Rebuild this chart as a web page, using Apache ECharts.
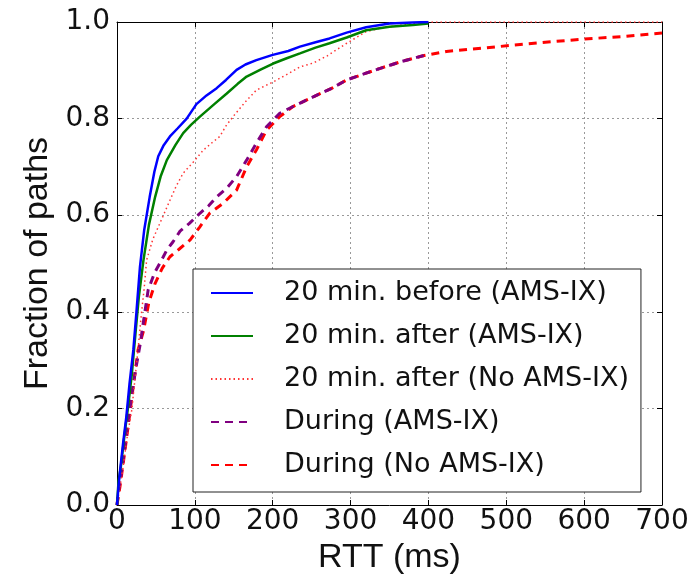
<!DOCTYPE html>
<html>
<head>
<meta charset="utf-8">
<script src="https://cdn.jsdelivr.net/npm/echarts@6/dist/echarts.min.js"></script>
<style>html,body{margin:0;padding:0;background:#fff}#c{width:692px;height:580px}</style>
</head>
<body>
<div id="c"></div>
<script>
const seriesNames = ["20 min. before (AMS-IX)", "20 min. after (AMS-IX)", "20 min. after (No AMS-IX)", "During (AMS-IX)", "During (No AMS-IX)"];
const xTicks = [0, 100, 200, 300, 400, 500, 600, 700];
const yTicks = [0, 0.2, 0.4, 0.6, 0.8, 1.0];

const beforeAms = [[0,0],[2,0.04],[4,0.072],[8,0.13],[12,0.183],[16,0.25],[21,0.321],[25,0.40],[29.5,0.493],[35,0.57],[42,0.638],[48,0.69],[53,0.722],[60,0.745],[68,0.763],[78,0.78],[89.5,0.8],[102,0.83],[115,0.848],[128,0.863],[140,0.88],[153.6,0.901],[165,0.912],[179,0.921],[200,0.932],[220,0.94],[235,0.949],[255,0.958],[273,0.966],[295,0.978],[320,0.989],[350,0.997],[380,0.999],[400,1.0]];
const afterAms = [[0,0],[2,0.05],[5,0.08],[10,0.15],[14,0.2],[19,0.27],[24,0.36],[28,0.43],[34,0.507],[41,0.58],[49,0.638],[56,0.68],[64,0.714],[75,0.745],[85,0.77],[95,0.787],[106.5,0.804],[125,0.83],[141,0.852],[155,0.872],[166.5,0.887],[185,0.902],[200.6,0.914],[218,0.925],[235,0.935],[255,0.947],[273,0.956],[295,0.968],[320,0.983],[350,0.99],[380,0.994],[400,0.997]];
const afterNoAms = [[0,0],[3,0.03],[8,0.08],[13,0.14],[19,0.197],[23,0.26],[27,0.321],[31,0.39],[35,0.45],[38,0.507],[46,0.55],[55,0.583],[68,0.631],[76,0.66],[85,0.687],[98,0.71],[111,0.735],[122,0.75],[132,0.763],[140,0.785],[149,0.804],[165,0.835],[179,0.859],[200.6,0.876],[220,0.893],[235,0.907],[252,0.915],[270,0.93],[295,0.956],[320,0.98],[340,0.988],[359,0.992],[380,0.997],[400,1.0],[700,1.0]];
const duringAms = [[0,0],[2,0.03],[5,0.06],[10,0.12],[15,0.18],[20,0.24],[25,0.29],[30,0.335],[34,0.38],[40,0.445],[48,0.48],[59.5,0.514],[64,0.528],[72,0.545],[81,0.567],[93,0.583],[106.5,0.604],[118,0.62],[128,0.638],[141,0.656],[153.6,0.68],[166.5,0.714],[179,0.749],[192,0.783],[209,0.811],[226,0.825],[252,0.845],[275,0.862],[295,0.88],[318,0.893],[338,0.904],[365,0.918],[393,0.93],[400,0.932]];
const duringNoAms = [[0,0],[2,0.02],[4,0.04],[10,0.11],[17,0.197],[22,0.26],[27,0.321],[34,0.36],[41,0.42],[49,0.459],[58,0.49],[68,0.514],[80,0.53],[94,0.549],[106,0.575],[119,0.604],[136.5,0.625],[153.6,0.652],[166.5,0.7],[179,0.735],[192,0.776],[209,0.804],[226,0.825],[252,0.845],[275,0.862],[295,0.88],[318,0.893],[338,0.904],[365,0.918],[393,0.93],[423,0.939],[470,0.946],[509,0.952],[550,0.958],[594,0.964],[650,0.97],[700,0.977]];

const TICKFONT = "DejaVu Sans";
const TITLEFONT = "Liberation Sans";
const chart = echarts.init(document.getElementById('c'), null, {renderer: 'canvas'});
const gridLine = {show: true, lineStyle: {color: '#999', type: [2, 3], width: 1}};
const frameLine = {show: true, onZero: false, lineStyle: {color: '#000', width: 1}};
const tick = {show: true, inside: true, length: 5, lineStyle: {color: '#000'}};
function mk(name, data, color, type, width, z) {
  return {name, type: 'line', data, showSymbol: false, symbol: 'none', xAxisIndex: 0, yAxisIndex: 0, z,
    lineStyle: {color, type, width}, itemStyle: {color}, animation: false};
}
chart.setOption({
  animation: false,
  textStyle: {fontFamily: TICKFONT},
  grid: {left: 117, right: 30, top: 22, bottom: 75},
  legend: {
    orient: 'vertical', left: 193, top: 269,
    data: seriesNames,
    borderColor: '#222', borderWidth: 1, padding: [10, 12, 13, 17],
    itemWidth: 42, itemHeight: 14, itemGap: 15,
    itemStyle: {opacity: 0},
    textStyle: {fontSize: 27, lineHeight: 28, color: '#111', fontFamily: TICKFONT, padding: [0, 0, 0, 26]},
    backgroundColor: '#fff'
  },
  xAxis: [
    {type: 'value', min: 0, max: 700, interval: 100, position: 'bottom',
     axisLine: frameLine, axisTick: tick, splitLine: gridLine,
     axisLabel: {fontSize: 28, color: '#111', margin: 3, fontFamily: TICKFONT},
     name: 'RTT (ms)', nameLocation: 'middle', nameGap: 35,
     nameTextStyle: {fontSize: 34, color: '#111', fontFamily: TITLEFONT}},
    {type: 'value', min: 0, max: 700, interval: 100, position: 'top',
     axisLine: frameLine, axisTick: tick, splitLine: {show: false}, axisLabel: {show: false}}
  ],
  yAxis: [
    {type: 'value', min: 0, max: 1, interval: 0.2, position: 'left',
     axisLine: frameLine, axisTick: tick, splitLine: gridLine,
     axisLabel: {fontSize: 28, color: '#111', margin: 7, fontFamily: TICKFONT, formatter: v => v.toFixed(1)},
     name: 'Fraction of paths', nameLocation: 'middle', nameGap: 60,
     nameTextStyle: {fontSize: 34, color: '#111', fontFamily: TITLEFONT}},
    {type: 'value', min: 0, max: 1, interval: 0.2, position: 'right',
     axisLine: frameLine, axisTick: tick, splitLine: {show: false}, axisLabel: {show: false}}
  ],
  series: [
    mk(seriesNames[0], beforeAms, '#0000ff', 'solid', 2.5, 5),
    mk(seriesNames[1], afterAms, '#008000', 'solid', 2.5, 4),
    mk(seriesNames[2], afterNoAms, '#ff3333', [1.5, 3], 1.5, 3),
    mk(seriesNames[3], duringAms, '#800080', [8, 6], 3, 2),
    mk(seriesNames[4], duringNoAms, '#ff0000', [8, 6], 3, 1)
  ]
});
</script>
</body>
</html>
